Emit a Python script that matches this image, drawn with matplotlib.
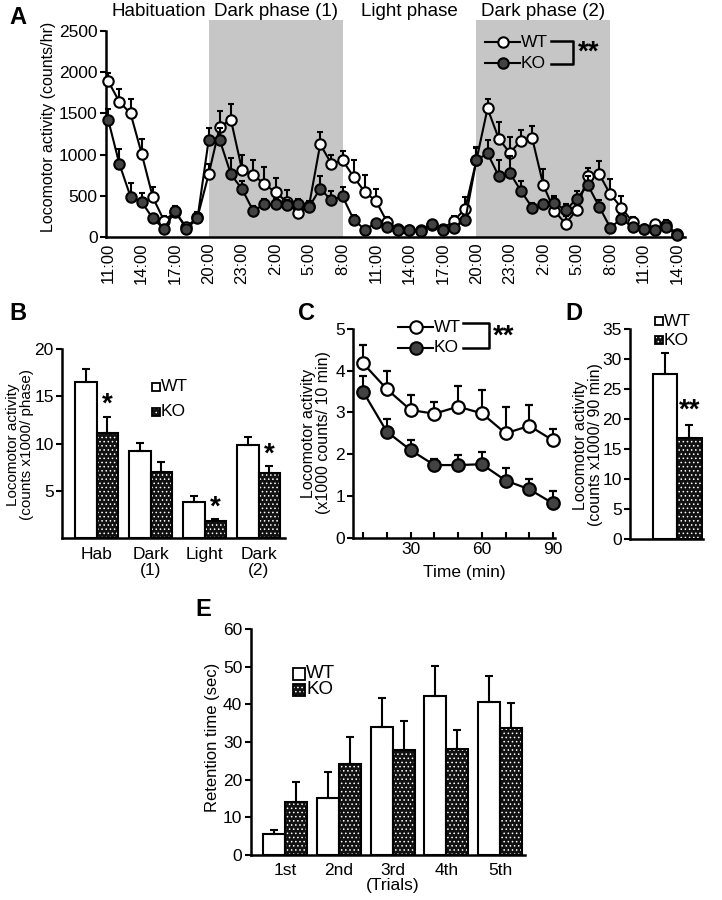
import numpy as np
import matplotlib
matplotlib.use('Agg')
import matplotlib.pyplot as plt
import matplotlib.transforms as mtransforms
from matplotlib.lines import Line2D
from matplotlib.patches import Rectangle

plt.rcParams['font.family'] = ['Liberation Sans', 'DejaVu Sans']
plt.rcParams['hatch.linewidth'] = 0.6

W, H = 722, 900
KO_FILL = '#424242'
KO_DARK = '#111111'
SHADE = '#c6c6c6'

# ---------------- data ----------------
# A: hourly activity from 11:00 (day 1) to 14:00 (day 3)
hours_a = list(range(52))
time_labels_a = ['11:00', '14:00', '17:00', '20:00', '23:00', '2:00', '5:00', '8:00',
                 '11:00', '14:00', '17:00', '20:00', '23:00', '2:00', '5:00', '8:00',
                 '11:00', '14:00']
wt_a = [1890, 1640, 1500, 1010, 480, 200, 300, 120, 240, 760,
        1340, 1420, 810, 750, 645, 540, 430, 288, 380, 1125,
        890, 930, 730, 545, 437, 180, 100, 90, 80, 150,
        100, 200, 345, 930, 1560, 1195, 1020, 1170, 1200, 630,
        316, 160, 333, 745, 765, 518, 357, 182, 102, 154,
        142, 41]
wt_a_err = [100, 160, 170, 175, 130, 60, 60, 40, 60, 120,
            190, 195, 180, 190, 200, 170, 140, 60, 60, 150,
            110, 110, 200, 210, 140, 60, 30, 30, 30, 40,
            40, 60, 140, 160, 110, 200, 190, 130, 150, 200,
            160, 90, 90, 90, 160, 190, 140, 60, 40, 40,
            60, 30]
ko_a = [1420, 885, 490, 425, 225, 100, 316, 100, 225, 1175,
        1175, 760, 580, 316, 397, 397, 390, 397, 364, 587,
        445, 494, 211, 90, 170, 120, 81, 90, 73, 160,
        90, 115, 203, 930, 1015, 740, 777, 558, 357, 395,
        413, 324, 466, 628, 370, 114, 220, 121, 95, 90,
        121, 21]
ko_a_err = [130, 180, 160, 110, 60, 40, 60, 40, 60, 150,
            150, 200, 100, 60, 60, 60, 60, 60, 60, 150,
            110, 110, 60, 30, 30, 30, 30, 30, 30, 40,
            30, 40, 60, 150, 160, 200, 200, 120, 60, 60,
            80, 80, 90, 110, 80, 40, 60, 40, 40, 40,
            40, 20]
phase_names = ['Habituation', 'Dark phase (1)', 'Light phase', 'Dark phase (2)']
phase_edges = [0, 9, 21, 33, 45]
dark_phases = [(9, 21), (33, 45)]

# B: activity per phase
groups_b = ['Hab', 'Dark\n(1)', 'Light', 'Dark\n(2)']
wt_b = [16.5, 9.2, 3.8, 9.9]
wt_b_err = [1.4, 0.9, 0.7, 0.85]
ko_b = [11.1, 7.0, 1.8, 6.9]
ko_b_err = [1.7, 1.1, 0.2, 0.7]
sig_b = ['*', '', '*', '*']

# C: novel environment, 10-min bins
time_c = [10, 20, 30, 40, 50, 60, 70, 80, 90]
wt_c = [4.18, 3.56, 3.06, 2.97, 3.14, 2.98, 2.50, 2.68, 2.33]
wt_c_err = [0.44, 0.44, 0.36, 0.27, 0.50, 0.55, 0.64, 0.50, 0.27]
ko_c = [3.50, 2.54, 2.10, 1.74, 1.74, 1.76, 1.37, 1.16, 0.82]
ko_c_err = [0.38, 0.31, 0.23, 0.14, 0.24, 0.30, 0.29, 0.24, 0.31]

# D: total over 90 min
wt_d, wt_d_err = 27.5, 3.6
ko_d, ko_d_err = 16.8, 2.2

# E: retention time
trials_e = ['1st', '2nd', '3rd\n(Trials)', '4th', '5th']
wt_e = [5.6, 15.2, 33.9, 42.3, 40.6]
wt_e_err = [1.0, 6.9, 7.9, 7.9, 7.0]
ko_e = [14.1, 24.1, 28.0, 28.2, 33.8]
ko_e_err = [5.3, 7.3, 7.6, 5.0, 6.6]


def fx(x):
    return x / W


def fy(y):
    return 1 - y / H


def new_axes(left, top, right, bottom):
    ax = fig.add_axes([fx(left), fy(bottom), (right - left) / W, (bottom - top) / H])
    ax.spines[['top', 'right']].set_visible(False)
    ax.spines[['left', 'bottom']].set_linewidth(1.8)
    ax.tick_params(axis='y', direction='out', length=4, width=1.5, labelsize=12.5, pad=2)
    ax.tick_params(axis='x', length=0, labelsize=12.5)
    ax.patch.set_alpha(0)
    return ax


def ko_bars(ax, x, h, w, err):
    # stippled dark fill: white dots on near-black, then a black outline on top
    ax.bar(x, h, w, color=KO_DARK, edgecolor='white', hatch='....', lw=0, zorder=2)
    ax.bar(x, h, w, fill=False, edgecolor='black', lw=1.5,
           yerr=[np.zeros(len(x)), err], error_kw=ekw, zorder=3)


def legend_line(x0, x1, y, label, face, ms):
    fig.add_artist(Line2D([fx(x0), fx(x1)], [fy(y), fy(y)], color='black', lw=1.5,
                          transform=fig.transFigure))
    fig.add_artist(Line2D([fx((x0 + x1) / 2)], [fy(y)], marker='o', ms=ms, mfc=face,
                          mec='black', mew=1.5, transform=fig.transFigure))
    fig.text(fx(x1 + 1), fy(y), label, ha='left', va='center', fontsize=12.5)


def bracket(x0, x1, y0, y1, xs, ys):
    fig.add_artist(Line2D([fx(x0), fx(x1), fx(x1), fx(x0)], [fy(y0), fy(y0), fy(y1), fy(y1)],
                          color='black', lw=1.8, transform=fig.transFigure))
    fig.text(fx(xs), fy(ys), '**', ha='left', va='center', fontsize=20, fontweight='bold')


def legend_box(x, y, size, label, ko, fs=12.5):
    xy = (fx(x), fy(y + size / 2))
    if ko:
        fig.add_artist(Rectangle(xy, size / W, size / H, facecolor=KO_DARK, edgecolor='white',
                                 hatch='....', lw=0, transform=fig.transFigure))
        fig.add_artist(Rectangle(xy, size / W, size / H, fill=False, edgecolor='black',
                                 lw=1.3, transform=fig.transFigure))
    else:
        fig.add_artist(Rectangle(xy, size / W, size / H, facecolor='white',
                                 edgecolor='black', lw=1.3, transform=fig.transFigure))
    fig.text(fx(x + size + 1), fy(y), label, ha='left', va='center', fontsize=fs)


def panel_letter(x, y, s):
    fig.text(fx(x), fy(y), s, ha='left', va='center', fontsize=17, fontweight='bold')


fig = plt.figure(figsize=(W / 100, H / 100), dpi=100)

ekw = dict(elinewidth=1.5, capthick=1.5, capsize=3, ecolor='black')

# ---------------- A ----------------
axA = new_axes(106, 20, 685, 237)
for a, b in dark_phases:
    axA.axvspan(a, b, color=SHADE, lw=0, zorder=0)
zeros_a = np.zeros(len(hours_a))
axA.errorbar(hours_a, wt_a, yerr=[zeros_a, wt_a_err], fmt='-o', color='black', mfc='white',
             mec='black', ms=7.5, mew=1.5, lw=1.5, elinewidth=1.5, capsize=2.5, capthick=1.5,
             zorder=3, clip_on=False)
axA.errorbar(hours_a, ko_a, yerr=[zeros_a, ko_a_err], fmt='-o', color='black', mfc=KO_FILL,
             mec='black', ms=7.5, mew=1.5, lw=1.5, elinewidth=1.5, capsize=2.5, capthick=1.5,
             zorder=4, clip_on=False)
axA.set_xlim(-0.2, 51.7)
axA.set_ylim(0, 2633)
axA.spines['left'].set_bounds(0, 2500)
axA.set_yticks([0, 500, 1000, 1500, 2000, 2500])
axA.set_xticks(hours_a[::3])
axA.set_xticklabels(time_labels_a, rotation=90, fontsize=12)
axA.tick_params(axis='x', pad=4)
top_trans = mtransforms.blended_transform_factory(axA.transData, fig.transFigure)
for i, name in enumerate(phase_names):
    mid = (phase_edges[i] + phase_edges[i + 1]) / 2
    axA.text(mid, fy(11), name, transform=top_trans, ha='center', va='center', fontsize=13.5)
fig.text(fx(49), fy(127), 'Locomotor activity (counts/hr)', rotation=90,
         ha='center', va='center', fontsize=11.5)
panel_letter(9, 18, 'A')
legend_line(485, 520, 42.3, 'WT', 'white', 7.5)
legend_line(485, 520, 63.3, 'KO', KO_FILL, 7.5)
bracket(550.7, 573.3, 41, 64, 578, 53)

# ---------------- B ----------------
axB = new_axes(62, 349, 285, 538.3)
xb = np.arange(len(groups_b))
bw = 0.39
axB.bar(xb - bw / 2, wt_b, bw, color='white', edgecolor='black', lw=1.5,
        yerr=[np.zeros(4), wt_b_err], error_kw=ekw, zorder=2)
ko_bars(axB, xb + bw / 2, ko_b, bw, ko_b_err)
for i, s in enumerate(sig_b):
    if s:
        axB.text(xb[i] + bw / 2, ko_b[i] + ko_b_err[i] - 0.1, s, ha='center', va='bottom',
                 fontsize=20, fontweight='bold')
axB.set_xlim(-0.64, 3.49)
axB.set_ylim(0, 20)
axB.set_yticks([5, 10, 15, 20])
axB.set_xticks(xb)
axB.set_xticklabels(groups_b, linespacing=1.1)
axB.tick_params(axis='x', pad=6)
fig.text(fx(20), fy(445), 'Locomotor activity\n(counts x1000/ phase)', rotation=90,
         ha='center', va='center', fontsize=11, linespacing=1.05)
panel_letter(9, 313, 'B')
legend_box(151.7, 386.7, 8, 'WT', False)
legend_box(151.7, 411.7, 8, 'KO', True)

# ---------------- C ----------------
axC = new_axes(353.3, 329, 555, 537.7)
zeros_c = np.zeros(len(time_c))
axC.errorbar(time_c, wt_c, yerr=[zeros_c, wt_c_err], fmt='-o', color='black', mfc='white',
             mec='black', ms=9, mew=1.6, lw=1.6, elinewidth=1.5, capsize=3, capthick=1.5,
             zorder=3, clip_on=False)
axC.errorbar(time_c, ko_c, yerr=[zeros_c, ko_c_err], fmt='-o', color='black', mfc=KO_FILL,
             mec='black', ms=9, mew=1.6, lw=1.6, elinewidth=1.5, capsize=3, capthick=1.5,
             zorder=4, clip_on=False)
axC.set_xlim(5.9, 90.8)
axC.set_ylim(0, 5)
axC.set_yticks([0, 1, 2, 3, 4, 5])
axC.set_xticks([30, 60, 90])
axC.set_xticks(time_c, minor=True)
axC.tick_params(axis='x', which='both', direction='in', length=4, width=1.5, pad=3)
fig.text(fx(464), fy(572), 'Time (min)', ha='center', va='center', fontsize=12.5)
fig.text(fx(316), fy(433), 'Locomotor activity\n(x1000 counts/ 10 min)', rotation=90,
         ha='center', va='center', fontsize=11.5, linespacing=1.05)
panel_letter(298, 313, 'C')
legend_line(398, 433, 327.3, 'WT', 'white', 9)
legend_line(398, 433, 347.7, 'KO', KO_FILL, 9)
bracket(463.3, 489, 323.3, 348.3, 493, 336.7)

# ---------------- D ----------------
axD = new_axes(630, 329.3, 703, 539)
axD.bar([0], [wt_d], 1.0, color='white', edgecolor='black', lw=1.5,
        yerr=[[0], [wt_d_err]], error_kw=ekw, zorder=2)
ko_bars(axD, [1], [ko_d], 1.0, [ko_d_err])
axD.text(1, ko_d + ko_d_err + 0.2, '**', ha='center', va='bottom', fontsize=20,
         fontweight='bold')
axD.set_xlim(-1.42, 1.55)
axD.set_ylim(0, 35)
axD.set_yticks([0, 5, 10, 15, 20, 25, 30, 35])
axD.set_xticks([])
fig.text(fx(588), fy(445), 'Locomotor activity\n(counts x1000/ 90 min)', rotation=90,
         ha='center', va='center', fontsize=11.5, linespacing=1.05)
panel_letter(565, 313, 'D')
legend_box(655, 321, 8, 'WT', False)
legend_box(655, 340.3, 8, 'KO', True)

# ---------------- E ----------------
axE = new_axes(250.7, 629, 525, 855)
xe = np.arange(len(trials_e))
bwe = 0.41
axE.bar(xe - bwe / 2, wt_e, bwe, color='white', edgecolor='black', lw=1.5,
        yerr=[np.zeros(5), wt_e_err], error_kw=ekw, zorder=2)
ko_bars(axE, xe + bwe / 2, ko_e, bwe, ko_e_err)
axE.set_xlim(-0.644, 4.466)
axE.set_ylim(0, 60)
axE.set_yticks([0, 10, 20, 30, 40, 50, 60])
axE.set_xticks(xe)
axE.set_xticklabels(trials_e, linespacing=0.95)
axE.tick_params(axis='x', pad=6)
fig.text(fx(213), fy(737), 'Retention time (sec)', rotation=90,
         ha='center', va='center', fontsize=12)
panel_letter(195, 610, 'E')
legend_box(293.3, 674, 12, 'WT', False, 13.5)
legend_box(293.3, 690, 12, 'KO', True, 13.5)

fig.savefig('out.png', dpi=100)
